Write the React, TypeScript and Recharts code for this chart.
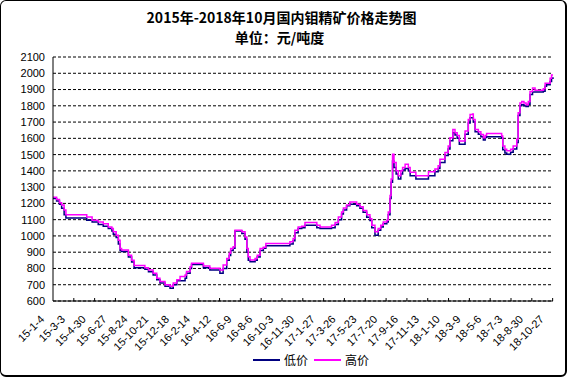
import React from 'react';
import { LineChart, Line, XAxis, YAxis, CartesianGrid } from 'recharts';

// day offsets from 2015-1-4 at each price step
const days = [
  0, 10, 18, 24, 31, 36, 94, 109, 126, 140, 154, 164, 168, 176, 182, 187, 191, 210, 219, 226,
  256, 266, 279, 289, 298, 312, 326, 335, 345, 354, 368, 372, 382, 386, 419, 437, 465, 474, 484, 491,
  495, 502, 507, 526, 535, 540, 544, 549, 563, 569, 577, 586, 593, 660, 669, 674, 683, 693, 702, 735,
  744, 776, 786, 795, 804, 809, 818, 827, 846, 855, 864, 874, 883, 888, 897, 906, 913, 920, 930, 934,
  939, 942, 946, 950, 956, 962, 969, 974, 981, 990, 995, 1011, 1046, 1064, 1073, 1078, 1092, 1101, 1106, 1114,
  1120, 1126, 1132, 1148, 1157, 1162, 1169, 1171, 1176, 1185, 1192, 1199, 1204, 1208, 1250, 1253, 1259, 1264, 1275, 1282,
  1292, 1296, 1301, 1306, 1312, 1318, 1324, 1329, 1336, 1343, 1366, 1371, 1375, 1385, 1389, 1393,
];

const highPrice = [
  1238, 1224, 1204, 1190, 1160, 1130, 1116, 1096, 1085, 1075, 1055, 1045, 1025, 1004, 974, 923, 913, 882, 850, 818,
  805, 791, 771, 740, 720, 700, 690, 710, 730, 750, 760, 781, 811, 832, 815, 801, 791, 821, 862, 893,
  923, 933, 1035, 1025, 994, 923, 872, 852, 862, 882, 923, 930, 954, 965, 984, 1035, 1055, 1060, 1082, 1065,
  1055, 1065, 1082, 1116, 1147, 1171, 1190, 1208, 1195, 1180, 1157, 1130, 1106, 1065, 1025, 1045, 1065, 1086, 1096, 1147,
  1248, 1350, 1502, 1452, 1400, 1370, 1400, 1421, 1441, 1421, 1391, 1370, 1395, 1411, 1431, 1472, 1513, 1553, 1604, 1655,
  1635, 1618, 1584, 1645, 1716, 1746, 1750, 1716, 1655, 1640, 1624, 1604, 1618, 1630, 1614, 1553, 1533, 1523, 1533, 1553,
  1594, 1757, 1817, 1827, 1817, 1807, 1827, 1888, 1909, 1895, 1905, 1939, 1939, 1970, 1990, 1990,
];

const lowPrice = [
  1230, 1215, 1195, 1170, 1130, 1110, 1096, 1085, 1070, 1060, 1045, 1030, 1010, 990, 950, 910, 905, 870, 840, 805,
  795, 780, 760, 730, 710, 690, 678, 700, 724, 724, 740, 770, 800, 825, 805, 790, 771, 800, 850, 880,
  910, 925, 1030, 1015, 980, 900, 850, 842, 850, 870, 910, 925, 940, 950, 970, 1020, 1045, 1050, 1065, 1050,
  1045, 1050, 1070, 1100, 1135, 1160, 1185, 1195, 1185, 1170, 1145, 1115, 1095, 1050, 1004, 1035, 1055, 1075, 1086, 1130,
  1230, 1330, 1460, 1420, 1380, 1350, 1380, 1405, 1415, 1400, 1370, 1350, 1370, 1395, 1415, 1452, 1495, 1535, 1585, 1635,
  1620, 1600, 1563, 1625, 1695, 1726, 1726, 1700, 1640, 1625, 1610, 1590, 1605, 1610, 1600, 1530, 1510, 1502, 1515, 1535,
  1575, 1740, 1800, 1807, 1800, 1795, 1810, 1870, 1885, 1885, 1890, 1920, 1930, 1950, 1970, 1975,
];

const tickLabels = [
  '15-1-4', '15-3-3', '15-4-30', '15-6-27', '15-8-24', '15-10-21', '15-12-18', '16-2-14', '16-4-12',
  '16-6-9', '16-8-6', '16-10-3', '16-11-30', '17-1-27', '17-3-26', '17-5-23', '17-7-20', '17-9-16',
  '17-11-13', '18-1-10', '18-3-9', '18-5-6', '18-7-3', '18-8-30', '18-10-27',
];
const tickStep = 58;
const yTicks = [600, 700, 800, 900, 1000, 1100, 1200, 1300, 1400, 1500, 1600, 1700, 1800, 1900, 2000, 2100];

const data = days.map((d, i) => ({ day: d, high: highPrice[i], low: lowPrice[i] }));
const xTicks = tickLabels.map((_, i) => i * tickStep);

const font = '"Liberation Sans", Arial, sans-serif';
const cjk = '"Noto Sans CJK SC", sans-serif';

const DateTick = ({ x, y, payload }: any) => {
  const label = tickLabels[Math.round(payload.value / tickStep)];
  const tx = x - 8;
  const ty = y + 19;
  return (
    <g>
      {payload.value > 0 && <line x1={x} y1={y} x2={x} y2={y - 3} stroke="#000" />}
      <text
        x={tx}
        y={ty}
        textAnchor="end"
        fontSize={11}
        fontFamily={font}
        fill="#000"
        transform={`rotate(-45, ${tx}, ${ty})`}
      >
        {label}
      </text>
    </g>
  );
};

export default function App() {
  return (
    <div style={{ position: 'fixed', left: 0, top: 0, width: 567, height: 377, background: '#fff' }}>
      <LineChart
        width={567}
        height={377}
        data={data}
        margin={{ top: 57, right: 14, left: 8, bottom: 0 }}
      >
        <CartesianGrid vertical={false} stroke="#000" strokeDasharray="3 2" />
        <XAxis
          type="number"
          dataKey="day"
          domain={[0, 1393]}
          ticks={xTicks}
          interval={0}
          height={76}
          tickLine={false}
          tickSize={0}
          tickMargin={0}
          axisLine={{ stroke: '#000' }}
          tick={<DateTick />}
        />
        <YAxis
          domain={[600, 2100]}
          ticks={yTicks}
          interval={0}
          width={45}
          tickLine={false}
          tickSize={0}
          tickMargin={8}
          axisLine={{ stroke: '#000' }}
          tick={{ fill: '#000', fontSize: 11, fontFamily: font }}
        />
        <Line
          type="stepAfter"
          dataKey="low"
          stroke="#000080"
          strokeWidth={1.5}
          dot={false}
          isAnimationActive={false}
        />
        <Line
          type="stepAfter"
          dataKey="high"
          stroke="#ff00ff"
          strokeWidth={1.5}
          dot={false}
          isAnimationActive={false}
        />
      </LineChart>

      <div style={{ position: 'absolute', left: 0, top: 7, width: 567, textAlign: 'center', fontFamily: cjk, fontWeight: 700, fontSize: 14, lineHeight: '20px' }}>
        <div style={{ paddingRight: 4 }}>2015年-2018年10月国内钼精矿价格走势图</div>
        <div style={{ paddingRight: 8 }}>单位：元/吨度</div>
      </div>

      <div style={{ position: 'absolute', left: 253, top: 351, display: 'flex', alignItems: 'center', fontFamily: cjk, fontSize: 12 }}>
        <span style={{ display: 'inline-block', width: 27, borderTop: '2px solid #000080', marginRight: 4 }} />
        <span>低价</span>
        <span style={{ display: 'inline-block', width: 27, borderTop: '2px solid #ff00ff', marginLeft: 6, marginRight: 4 }} />
        <span>高价</span>
      </div>

      <div style={{ position: 'absolute', left: 0, top: 0, width: 567, height: 377, boxSizing: 'border-box', border: '1px solid #000', borderRightWidth: 2, borderBottomWidth: 2, borderRadius: 6, pointerEvents: 'none' }} />
    </div>
  );
}
